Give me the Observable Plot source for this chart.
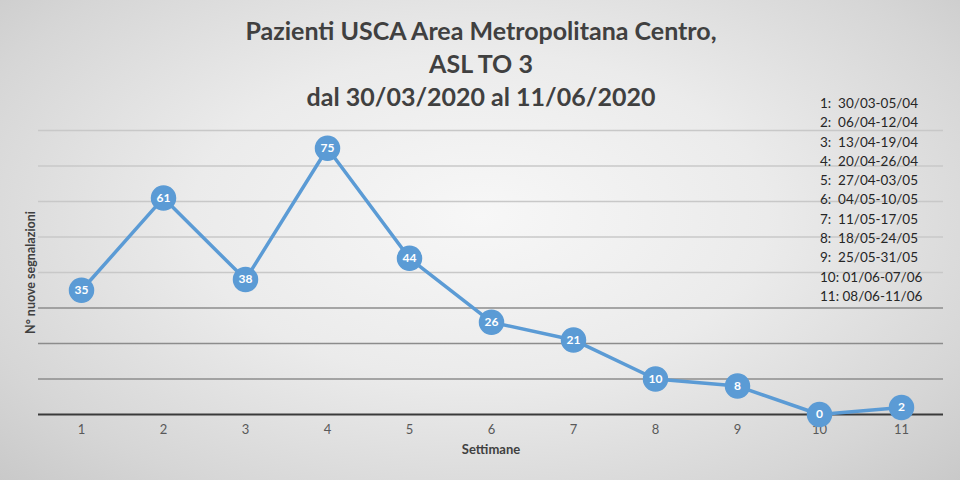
<!DOCTYPE html>
<html>
<head>
<meta charset="utf-8">
<script src="https://cdn.jsdelivr.net/npm/d3@7"></script>
<script src="https://cdn.jsdelivr.net/npm/@observablehq/plot@0.6"></script>
<style>
  html, body { margin: 0; padding: 0; }
  #wrap {
    position: relative; width: 960px; height: 480px; overflow: hidden;
    background: radial-gradient(ellipse 75% 85% at 50% 45%, #f7f7f7 0%, #ebebeb 40%, #d6d6d6 75%, #c4c4c4 100%);
    font-family: Lato, "Open Sans", sans-serif;
  }
  #title {
    position: absolute; left: 0; top: 14px; width: 962px; text-align: center;
    font-weight: bold; font-size: 25px; line-height: 33px; color: #404040;
  }
  #legend {
    position: absolute; left: 820px; top: 94px;
    font-size: 13.5px; line-height: 19.3px; color: #262626; white-space: pre;
  }
  #chart { position: absolute; left: 0; top: 115px; }
</style>
</head>
<body>
<div id="wrap">
  <div id="title"></div>
  <div id="chart"></div>
  <div id="legend"></div>
</div>
<script>
const titleLines = ["Pazienti USCA Area Metropolitana Centro,", "ASL TO 3", "dal 30/03/2020 al 11/06/2020"];
const weeks = [1, 2, 3, 4, 5, 6, 7, 8, 9, 10, 11];
const values = [35, 61, 38, 75, 44, 26, 21, 10, 8, 0, 2];
const weekRanges = ["30/03-05/04", "06/04-12/04", "13/04-19/04", "20/04-26/04", "27/04-03/05",
  "04/05-10/05", "11/05-17/05", "18/05-24/05", "25/05-31/05", "01/06-07/06", "08/06-11/06"];
const yTicks = [0, 10, 20, 30, 40, 50, 60, 70, 80];

document.getElementById("title").innerHTML = titleLines.join("<br>");
document.getElementById("legend").textContent =
  weeks.map((w, i) => (w < 10 ? `${w}:  ` : `${w}: `) + weekRanges[i]).join("\n");

const data = weeks.map((w, i) => ({week: w, value: values[i]}));
const gridColor = v => v === 0 ? "#3a3a3a" : (v <= 30 ? "#8c8c8c" : "#c8c8c8");

const chart = Plot.plot({
  width: 960,
  height: 365,
  marginTop: 15,
  marginBottom: 66,
  marginLeft: 38,
  marginRight: 17,
  style: {background: "transparent", fontFamily: "Lato, 'Open Sans', sans-serif"},
  x: {type: "band", domain: weeks, padding: 0, label: null, axis: null},
  y: {domain: [0, 80], label: null, axis: null},
  marks: [
    Plot.ruleY(yTicks, {y: d => d, stroke: gridColor, strokeWidth: d => d === 0 ? 2 : 1.3}),
    Plot.text(weeks, {x: d => d, frameAnchor: "bottom", dy: 19, text: d => String(d), fill: "#595959", fontSize: 13}),
    Plot.text(["Settimane"], {frameAnchor: "bottom", dy: 39, text: d => d, fill: "#404040", fontSize: 13, fontWeight: "bold"}),
    Plot.text(["N° nuove segnalazioni"], {frameAnchor: "left", textAnchor: "middle", dx: -8, rotate: -90, text: d => d, fill: "#404040", fontSize: 12.5, fontWeight: "bold"}),
    Plot.line(data, {x: "week", y: "value", stroke: "#5b9bd5", strokeWidth: 3.5}),
    Plot.dot(data, {x: "week", y: "value", r: 12, fill: "#5b9bd5", stroke: "#5b9bd5"}),
    Plot.text(data, {x: "week", y: "value", text: d => String(d.value), fill: "white", fontSize: 12, fontWeight: "bold"})
  ]
});
document.getElementById("chart").appendChild(chart);
</script>
</body>
</html>
